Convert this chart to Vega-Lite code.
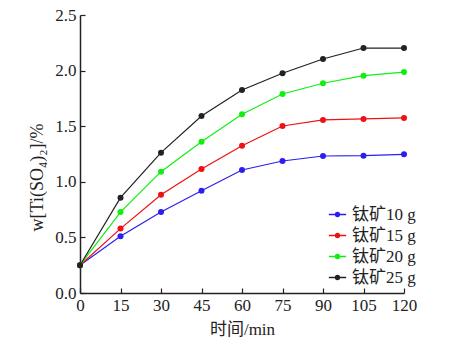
{
  "$schema": "https://vega.github.io/schema/vega-lite/v6.json",
  "width": 324,
  "height": 278,
  "autosize": "none",
  "padding": {"left": 80, "top": 15, "right": 57, "bottom": 58},
  "background": "white",
  "config": {
    "view": {"stroke": null},
    "font": "Liberation Serif",
    "axis": {"grid": false, "labelFlush": false, "domainColor": "#222", "domainWidth": 1.5, "tickColor": "#222", "tickWidth": 1.2, "labelColor": "#222", "titleColor": "#222", "labelFont": "Liberation Serif", "titleFont": "Liberation Serif, Noto Sans CJK SC", "labelFontSize": 17, "titleFontSize": 17, "titleFontWeight": "normal"}
  },
  "data": {"values": [
    {"t": 0, "v": 0.25, "s": "钛矿10 g"}, {"t": 15, "v": 0.51, "s": "钛矿10 g"}, {"t": 30, "v": 0.728, "s": "钛矿10 g"}, {"t": 45, "v": 0.92, "s": "钛矿10 g"}, {"t": 60, "v": 1.106, "s": "钛矿10 g"}, {"t": 75, "v": 1.187, "s": "钛矿10 g"}, {"t": 90, "v": 1.232, "s": "钛矿10 g"}, {"t": 105, "v": 1.235, "s": "钛矿10 g"}, {"t": 120, "v": 1.247, "s": "钛矿10 g"},
    {"t": 0, "v": 0.25, "s": "钛矿15 g"}, {"t": 15, "v": 0.579, "s": "钛矿15 g"}, {"t": 30, "v": 0.884, "s": "钛矿15 g"}, {"t": 45, "v": 1.115, "s": "钛矿15 g"}, {"t": 60, "v": 1.325, "s": "钛矿15 g"}, {"t": 75, "v": 1.502, "s": "钛矿15 g"}, {"t": 90, "v": 1.556, "s": "钛矿15 g"}, {"t": 105, "v": 1.565, "s": "钛矿15 g"}, {"t": 120, "v": 1.574, "s": "钛矿15 g"},
    {"t": 0, "v": 0.25, "s": "钛矿20 g"}, {"t": 15, "v": 0.728, "s": "钛矿20 g"}, {"t": 30, "v": 1.091, "s": "钛矿20 g"}, {"t": 45, "v": 1.361, "s": "钛矿20 g"}, {"t": 60, "v": 1.607, "s": "钛矿20 g"}, {"t": 75, "v": 1.79, "s": "钛矿20 g"}, {"t": 90, "v": 1.886, "s": "钛矿20 g"}, {"t": 105, "v": 1.954, "s": "钛矿20 g"}, {"t": 120, "v": 1.987, "s": "钛矿20 g"},
    {"t": 0, "v": 0.25, "s": "钛矿25 g"}, {"t": 15, "v": 0.857, "s": "钛矿25 g"}, {"t": 30, "v": 1.262, "s": "钛矿25 g"}, {"t": 45, "v": 1.592, "s": "钛矿25 g"}, {"t": 60, "v": 1.826, "s": "钛矿25 g"}, {"t": 75, "v": 1.976, "s": "钛矿25 g"}, {"t": 90, "v": 2.104, "s": "钛矿25 g"}, {"t": 105, "v": 2.203, "s": "钛矿25 g"}, {"t": 120, "v": 2.203, "s": "钛矿25 g"}
  ]},
  "mark": {"type": "line", "strokeWidth": 1.2, "point": {"filled": true, "size": 36, "opacity": 1}},
  "encoding": {
    "x": {"field": "t", "type": "quantitative", "scale": {"domain": [0, 120], "nice": false}, "axis": {"values": [0, 15, 30, 45, 60, 75, 90, 105, 120], "tickSize": -5, "labelPadding": 9, "title": "时间/min", "titlePadding": 8}},
    "y": {"field": "v", "type": "quantitative", "scale": {"domain": [0, 2.5], "nice": false}, "axis": {"values": [0, 0.5, 1, 1.5, 2, 2.5], "format": ".1f", "tickSize": -5, "labelPadding": 9, "title": "w[Ti(SO₄)₂]/%", "titlePadding": 8, "titleFontSize": 18, "titleY": 162}},
    "color": {"field": "s", "type": "nominal", "scale": {"domain": ["钛矿10 g", "钛矿15 g", "钛矿20 g", "钛矿25 g"], "range": ["#2a1ff0", "#ee1111", "#11ee11", "#222222"]},
      "legend": {"title": null, "orient": "none", "legendX": 248, "legendY": 190, "labelFont": "Liberation Serif, Noto Sans CJK SC", "labelFontSize": 17, "labelColor": "#222", "symbolType": "M-1,0H1M-0.22,0A0.22,0.22 0 1,0 0.22,0A0.22,0.22 0 1,0 -0.22,0Z", "symbolSize": 300, "symbolStrokeWidth": 1.5, "rowPadding": 3, "labelOffset": 5,
        "encode": {"symbols": {"update": {"fill": {"field": "value", "scale": "color"}, "fillOpacity": {"value": 1}}}}}}
  }
}
